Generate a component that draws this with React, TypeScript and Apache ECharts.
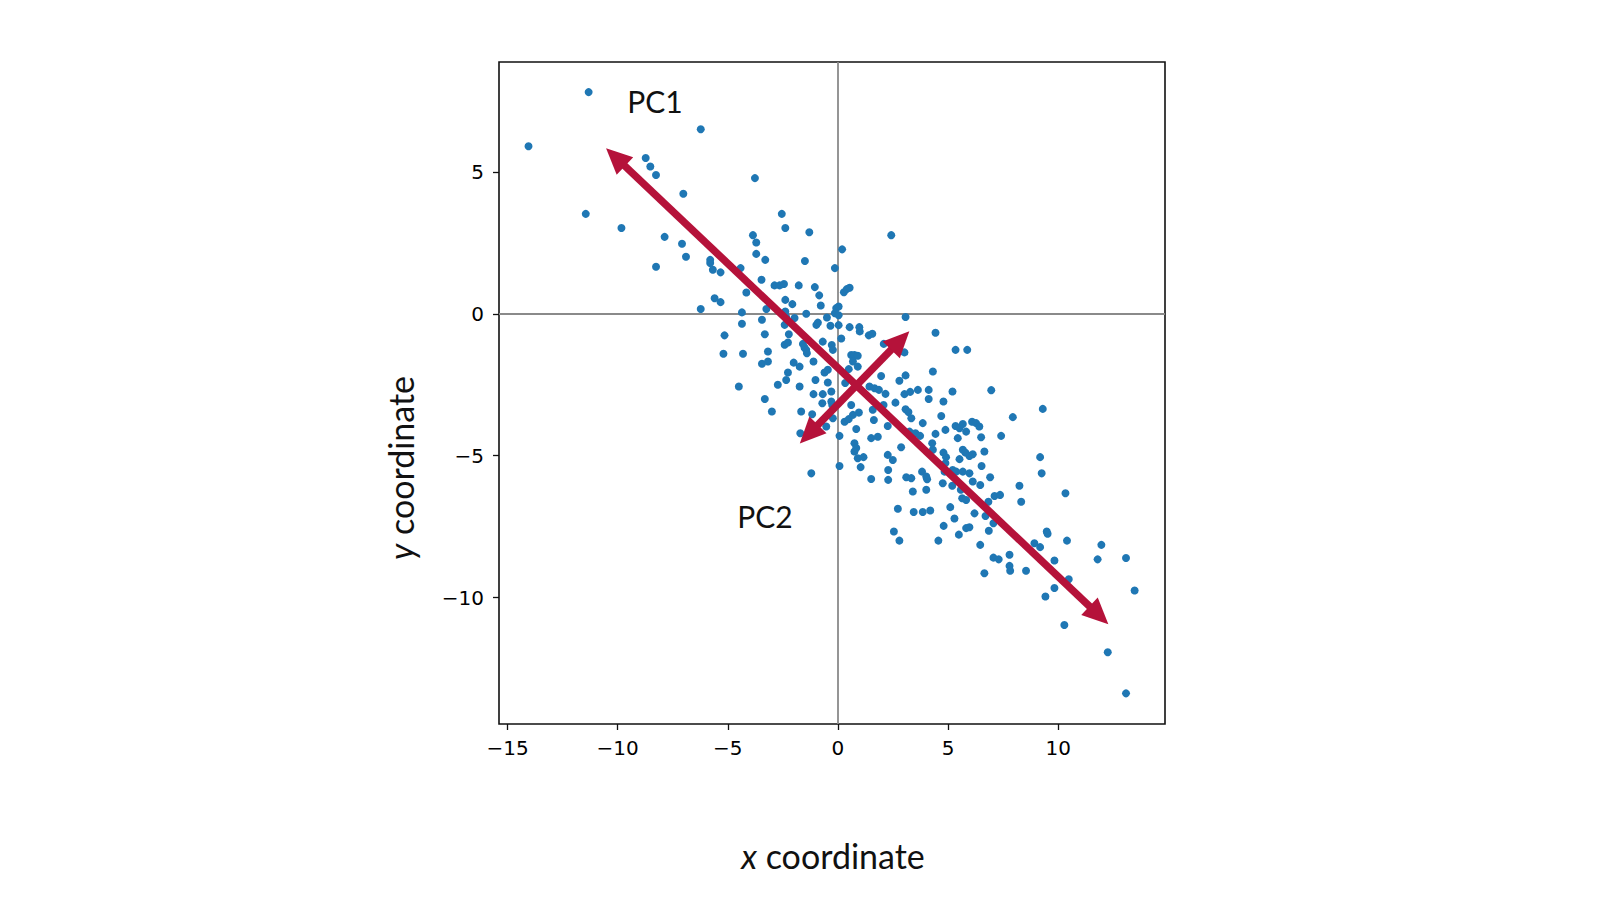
import React, { useEffect, useRef } from "react";
import * as echarts from "echarts";

// Scatter points [x, y]
const points: [number, number][] = [
  [-11.32, 7.81], [-14.05, 5.9], [-6.23, 6.5], [-8.73, 5.49], [-8.52, 5.19], [-8.26, 4.89], [-3.77, 4.78],
  [-7.02, 4.23], [-11.45, 3.52], [-9.83, 3.02], [-2.55, 3.52], [-2.39, 3.02], [-7.87, 2.71], [-7.08, 2.47],
  [-6.9, 2.01], [-8.26, 1.66], [-3.86, 2.77], [-3.71, 2.51], [-3.71, 2.11], [-3.3, 1.9], [-5.8, 1.9],
  [-5.8, 1.79], [-5.68, 1.55], [-5.33, 1.46], [-4.42, 1.61], [-3.47, 1.2], [-2.88, 1.0], [-2.65, 1.0],
  [-2.45, 1.05], [-1.78, 1.0], [-4.16, 0.75], [-5.6, 0.55], [-5.33, 0.41], [-6.23, 0.17], [-4.36, 0.05],
  [-3.25, 0.17], [-2.39, 0.49], [-2.07, 0.34], [-2.39, 0.08], [-1.97, -0.15], [-3.45, -0.21], [-4.36, -0.35],
  [-2.42, -0.39], [-3.32, -0.72], [-5.15, -0.76], [-2.23, -0.72], [-2.42, -1.09], [-2.27, -1.01], [-3.18, -1.33],
  [-5.2, -1.41], [-4.31, -1.41], [-3.45, -1.76], [-3.18, -1.68], [-2.01, -1.72], [-2.27, -2.07], [-2.35, -2.33],
  [-2.73, -2.5], [-4.5, -2.56], [-3.32, -3.0], [-3.0, -3.44],
  [-1.3, 2.87], [2.42, 2.77], [0.19, 2.27], [-1.5, 1.86], [-0.14, 1.61], [-1.05, 0.94], [-0.85, 0.65],
  [-0.78, 0.29], [0.27, 0.76], [0.4, 0.87], [0.53, 0.92], [-1.44, 0.0], [-0.5, -0.13], [-0.14, 0.02],
  [-0.08, 0.2], [0.03, 0.26], [0.03, -0.05], [3.07, -0.11], [-0.98, -0.39], [-0.91, -0.31], [-0.34, -0.42],
  [0.03, -0.4], [0.53, -0.47], [0.97, -0.47], [0.99, -0.62], [1.4, -0.76], [1.56, -0.7], [4.43, -0.67],
  [-1.59, -1.06], [-1.52, -1.19], [-1.44, -1.27], [-1.41, -1.39], [-0.69, -0.98], [-0.28, -1.1], [-0.23, -1.27],
  [0.15, -0.87], [2.08, -1.06], [3.02, -1.36], [5.34, -1.27], [5.87, -1.27], [0.6, -1.45], [0.75, -1.45],
  [0.9, -1.48], [0.68, -1.68], [0.9, -1.86], [-1.74, -1.86], [-1.11, -1.68], [-0.61, -2.07], [-0.46, -1.97],
  [-1.02, -2.33], [-0.46, -2.42], [1.96, -2.19], [3.07, -2.17], [2.79, -2.36], [4.31, -2.03],
  [-2.35, -0.12], [0.49, -1.95], [0.33, -2.44], [2.07, -3.21], [4.88, -5.26], [4.84, -5.56], [9.18, -5.05],
  [9.25, -5.62],
  [-1.74, -2.56], [-1.11, -2.83], [-0.69, -2.83], [-0.3, -2.74], [1.43, -2.56], [1.66, -2.62], [1.86, -2.68],
  [2.16, -2.82], [3.02, -2.83], [3.28, -2.75], [3.63, -2.68], [4.12, -2.68], [4.12, -3.0], [5.2, -2.74],
  [6.96, -2.69], [-0.71, -3.15], [-0.3, -3.09], [-0.26, -3.21], [0.6, -3.21], [2.61, -3.13], [4.79, -3.09],
  [3.07, -3.36], [3.2, -3.46], [-1.67, -3.44], [-1.17, -3.54], [-0.23, -3.68], [0.3, -3.8], [0.49, -3.71],
  [0.68, -3.56], [0.95, -3.48], [1.58, -3.38], [1.63, -3.74], [3.33, -3.68], [3.85, -3.85], [4.69, -3.6],
  [5.34, -3.95], [5.52, -4.03], [5.67, -3.88], [5.82, -4.15], [6.09, -3.8], [6.27, -3.85], [6.42, -3.97],
  [7.94, -3.64], [9.3, -3.35], [-1.71, -4.21], [-0.53, -3.97], [0.07, -4.3], [0.83, -4.06], [1.51, -4.38],
  [1.81, -4.33], [2.26, -3.95], [3.25, -4.15], [3.52, -4.21], [3.73, -4.3], [4.43, -4.23], [4.88, -4.09],
  [5.44, -4.38], [6.5, -4.35], [7.41, -4.3], [0.75, -4.56], [0.83, -4.73], [0.75, -4.85], [0.9, -5.09],
  [1.16, -5.05], [2.87, -4.7], [4.28, -4.56], [4.31, -4.79], [4.79, -4.89], [4.91, -5.05], [5.67, -4.79],
  [5.79, -4.89], [5.97, -5.01], [6.12, -4.95], [5.52, -5.12], [6.65, -4.85], [2.26, -4.97], [2.49, -5.15],
  [0.07, -5.36], [-1.21, -5.62], [1.03, -5.4], [2.28, -5.5], [2.28, -5.85], [1.51, -5.82], [3.1, -5.76],
  [3.33, -5.79], [3.82, -5.56], [4.01, -5.73], [4.05, -5.83], [3.4, -6.26], [4.01, -6.2], [5.21, -5.5],
  [5.37, -5.56], [5.67, -5.56], [5.97, -5.62], [4.76, -5.97], [5.19, -6.06], [6.12, -5.91], [6.46, -6.03],
  [6.52, -5.36], [6.91, -5.76], [5.58, -6.2], [5.64, -6.5], [5.82, -6.56], [8.24, -6.06], [8.32, -6.62],
  [7.11, -6.42], [7.36, -6.38], [6.83, -6.62], [10.33, -6.32], [2.72, -6.87], [3.44, -6.98], [3.85, -6.98],
  [4.19, -6.93], [5.1, -6.81], [5.29, -7.21], [6.2, -7.03], [6.7, -7.12], [7.06, -7.38], [4.8, -7.47],
  [2.54, -7.67], [2.79, -7.99], [4.56, -7.99], [5.49, -7.78], [5.82, -7.55], [5.97, -7.52], [6.85, -7.64],
  [6.46, -8.14], [8.92, -8.08], [9.18, -8.22], [9.48, -7.67], [9.52, -7.75], [10.4, -7.99], [11.96, -8.14],
  [11.79, -8.65], [13.08, -8.6], [7.06, -8.59], [7.3, -8.65], [7.79, -8.49], [7.79, -8.88], [7.82, -9.05],
  [6.65, -9.14], [8.54, -9.05], [9.83, -8.69], [10.48, -9.35], [9.83, -9.66], [9.42, -9.96], [13.47, -9.75],
  [10.28, -10.96], [12.25, -11.92], [13.08, -13.37],
];

// Principal-component arrows (centres of the two arrow heads)
const pc1Ends: [number, number][] = [[-10.1, 5.52], [11.85, -10.62]];
const pc2Ends: [number, number][] = [[2.83, -0.94], [-1.32, -4.24]];

const xTicks = [-15, -10, -5, 0, 5, 10];
const yTicks = [-10, -5, 0, 5];
const xRange = [-15.39, 14.85];
const yRange = [-14.45, 8.87];

const DOT = "#1f77b4";
const ARROW = "#b5123a";
const INK = "#111111";

const fmt = (v: number) => (v < 0 ? "\u2212" + Math.abs(v) : String(v));

export default function App() {
  const ref = useRef<HTMLDivElement>(null);
  useEffect(() => {
    if (!ref.current) return;
    const chart = echarts.init(ref.current, undefined, { renderer: "svg" });
    const axisCommon = {
      type: "value" as const,
      axisLine: { show: false, onZero: false },
      splitLine: { show: false },
    };
    chart.setOption({
      animation: false,
      backgroundColor: "#ffffff",
      grid: {
        left: 499,
        top: 62,
        width: 666,
        height: 662,
        show: true,
        borderColor: INK,
        borderWidth: 1.6,
        backgroundColor: "transparent",
      },
      xAxis: {
        ...axisCommon,
        min: xRange[0],
        max: xRange[1],
        axisTick: { show: true, length: 6, customValues: xTicks, lineStyle: { color: INK, width: 1.3 } },
        axisLabel: {
          customValues: xTicks,
          margin: 14,
          fontFamily: "DejaVu Sans",
          fontSize: 20,
          color: "#000",
          formatter: fmt,
        },
      },
      yAxis: {
        ...axisCommon,
        min: yRange[0],
        max: yRange[1],
        axisTick: { show: true, length: 6, customValues: yTicks, lineStyle: { color: INK, width: 1.3 } },
        axisLabel: {
          customValues: yTicks,
          margin: 15,
          fontFamily: "DejaVu Sans",
          fontSize: 20,
          color: "#000",
          formatter: fmt,
        },
      },
      series: [
        {
          type: "scatter",
          data: [],
          z: 1,
          silent: true,
          markLine: {
            z: 1,
            silent: true,
            symbol: "none",
            label: { show: false },
            lineStyle: { color: "#8a8a8a", width: 1.8, type: "solid" },
            emphasis: { disabled: true },
            data: [{ xAxis: 0 }, { yAxis: 0 }],
          },
        },
        {
          type: "scatter",
          z: 2,
          silent: true,
          symbol: "circle",
          symbolSize: 8,
          itemStyle: { color: DOT, opacity: 1 },
          data: points,
        },
        {
          type: "lines",
          coordinateSystem: "cartesian2d",
          z: 5,
          silent: true,
          symbol: ["triangle", "triangle"],
          symbolSize: [[24, 26], [24, 26]],
          lineStyle: { color: ARROW, width: 7.5, opacity: 1 },
          data: [{ coords: pc1Ends }, { coords: pc2Ends }],
        },
      ],
      graphic: [
        {
          type: "text",
          x: 655,
          y: 101,
          style: { text: "PC1", align: "center", verticalAlign: "middle", font: "30px Lato", fill: "#111" },
        },
        {
          type: "text",
          x: 765,
          y: 516,
          style: { text: "PC2", align: "center", verticalAlign: "middle", font: "30px Lato", fill: "#111" },
        },
        {
          type: "text",
          x: 833,
          y: 855,
          style: {
            text: "{i|x} coordinate",
            align: "center",
            verticalAlign: "middle",
            font: "34px Lato",
            fill: "#111",
            rich: { i: { fontStyle: "italic", font: "italic 34px Lato", fill: "#111" } },
          },
        },
        {
          type: "text",
          x: 400,
          y: 468,
          rotation: Math.PI / 2,
          style: {
            text: "{i|y} coordinate",
            align: "center",
            verticalAlign: "middle",
            font: "34px Lato",
            fill: "#111",
            rich: { i: { fontStyle: "italic", font: "italic 34px Lato", fill: "#111" } },
          },
        },
      ],
    });
    return () => chart.dispose();
  }, []);
  return (
    <div
      ref={ref}
      style={{ position: "absolute", left: 0, top: 0, width: 1600, height: 900 }}
    />
  );
}
